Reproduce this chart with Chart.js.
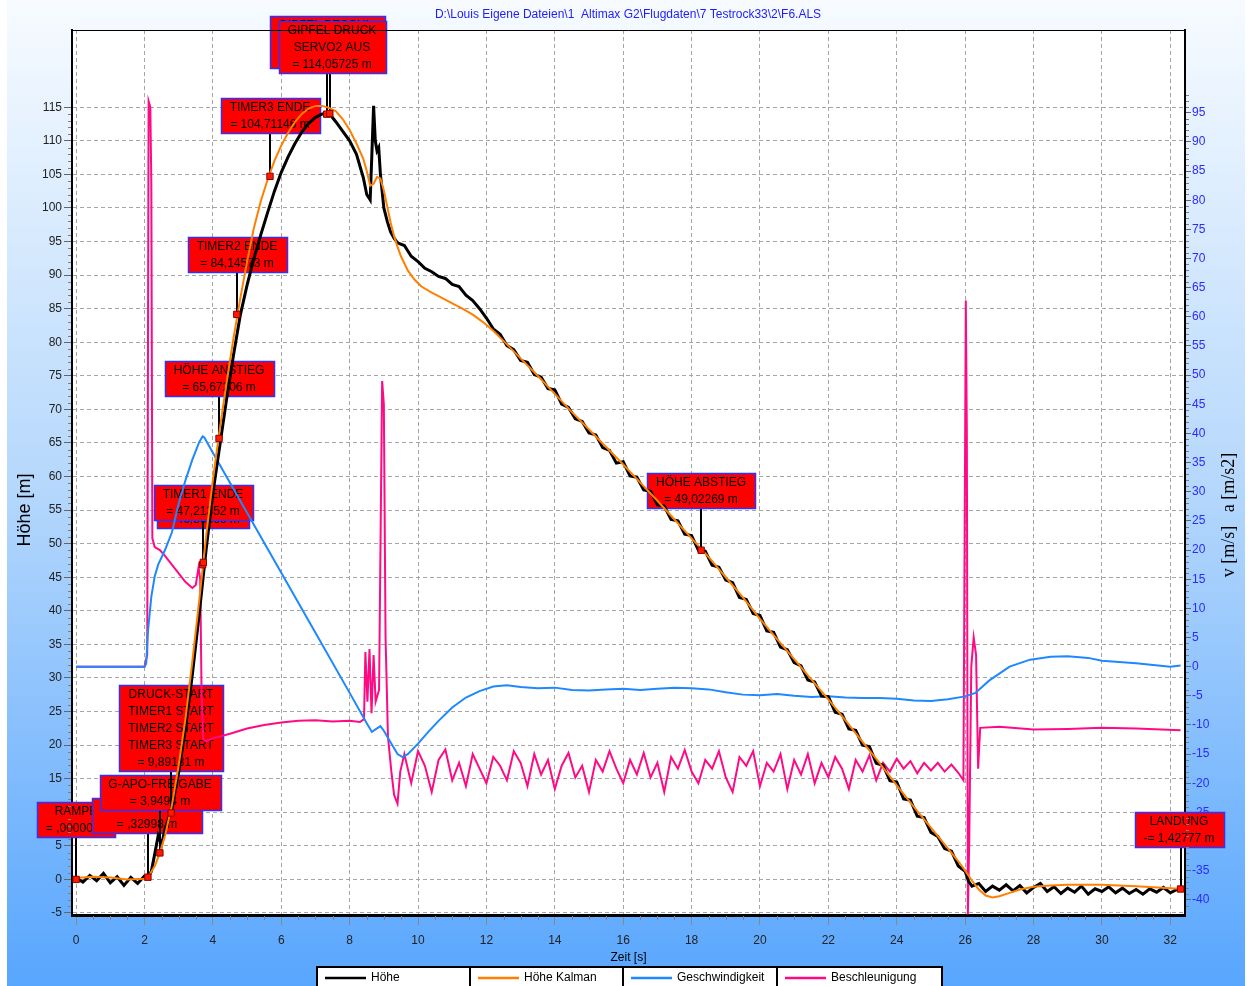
<!DOCTYPE html>
<html lang="de">
<head>
<meta charset="UTF-8">
<title>F6.ALS</title>
<script src="https://cdn.jsdelivr.net/npm/chart.js"></script>
<style>
  html, body { margin: 0; padding: 0; background: #fff; }
  #wrap { width: 1248px; height: 986px; }
</style>
</head>
<body>
<div id="wrap"><canvas id="flug" width="1248" height="986"></canvas></div>
<script>
// Höhe (Rohdaten)
const zeitHoehe = [
  0, 0.2, 0.4, 0.6, 0.8, 1.0, 1.2, 1.4, 1.6, 1.8,
  2.0, 2.1, 2.2, 2.3, 2.4, 2.5, 2.6, 2.8, 3.0, 3.2,
  3.4, 3.6, 3.8, 4.0, 4.2, 4.4, 4.6, 4.8, 5.0, 5.2,
  5.4, 5.6, 5.8, 6.0, 6.2, 6.4, 6.6, 6.8, 7.0, 7.2,
  7.4, 7.6, 7.8, 8.0, 8.2, 8.4, 8.5, 8.6, 8.65, 8.7,
  8.75, 8.8, 8.85, 8.9, 9.0, 9.1, 9.2, 9.3, 9.4, 9.6,
  9.8, 10.0, 10.2, 10.4, 10.6, 10.8, 11.0, 11.2, 11.4, 11.6,
  11.8, 12.0, 12.2, 12.4, 12.6, 12.8, 13.0, 13.2, 13.4, 13.6,
  13.8, 14.0, 14.2, 14.4, 14.6, 14.8, 15.0, 15.2, 15.4, 15.6,
  15.8, 16.0, 16.2, 16.4, 16.6, 16.8, 17.0, 17.2, 17.4, 17.6,
  17.8, 18.0, 18.2, 18.4, 18.6, 18.8, 19.0, 19.2, 19.4, 19.6,
  19.8, 20.0, 20.2, 20.4, 20.6, 20.8, 21.0, 21.2, 21.4, 21.6,
  21.8, 22.0, 22.2, 22.4, 22.6, 22.8, 23.0, 23.2, 23.4, 23.6,
  23.8, 24.0, 24.2, 24.4, 24.6, 24.8, 25.0, 25.2, 25.4, 25.6,
  25.8, 26.0, 26.1, 26.2, 26.4, 26.6, 26.8, 27.0, 27.2, 27.4,
  27.6, 27.8, 28.0, 28.2, 28.4, 28.6, 28.8, 29.0, 29.2, 29.4,
  29.6, 29.8, 30.0, 30.2, 30.4, 30.6, 30.8, 31.0, 31.2, 31.4,
  31.6, 31.8, 32.0, 32.2, 32.3
];
const hoehe = [
  0.2, -0.4, 0.6, -0.2, 0.9, -0.5, 0.4, -0.9, 0.3, -0.6,
  0.5, 0.3, 1.2, 3.8, 6.5, 5.2, 7.5, 10.5, 16.0, 22.5,
  30.5, 39.5, 49.0, 57.5, 64.5, 71.5, 78.0, 84.0, 88.5, 92.5,
  96.0, 99.3, 102.5, 105.3, 107.6, 109.6, 111.3, 112.6, 113.5, 114.0,
  114.1, 112.8, 111.4, 110.0, 108.0, 104.5, 102.0, 101.2, 108.0, 115.2,
  110.0, 108.5, 109.0, 105.0, 100.0, 98.0, 96.4, 95.5, 94.8, 94.4,
  92.8, 92.0, 91.0, 90.5, 89.8, 89.5, 88.6, 88.3, 87.0, 86.2,
  85.0, 83.6, 82.0, 81.2, 79.5, 78.9, 77.3, 77.0, 75.2, 74.8,
  73.1, 72.9, 70.8, 70.3, 68.6, 68.2, 66.5, 66.2, 64.3, 63.9,
  62.0, 62.2, 60.1, 59.9, 58.0, 57.8, 55.8, 55.6, 53.6, 53.4,
  51.4, 51.2, 49.0, 48.9, 46.8, 46.5, 44.6, 44.2, 42.0, 41.7,
  39.6, 39.3, 37.0, 36.8, 34.6, 34.2, 32.3, 31.8, 29.7, 29.4,
  27.3, 27.2, 24.9, 24.6, 22.4, 22.2, 20.0, 19.8, 17.3, 17.0,
  14.7, 14.5, 12.0, 11.8, 9.4, 9.2, 7.0, 6.4, 4.6, 4.2,
  2.0, 1.2, -0.3, -1.0, -0.6, -1.8, -1.0, -1.6, -0.8, -1.7,
  -0.9, -2.0, -1.2, -0.6, -1.8, -1.1, -2.1, -1.3, -1.9, -1.0,
  -2.2, -1.4, -1.8, -1.1, -2.0, -1.3, -2.1, -1.5, -2.2, -1.4,
  -1.9, -1.2, -2.0, -1.5, -1.43
];

// Höhe Kalman
const zeitKalman = [
  0, 0.5, 1.0, 1.5, 2.0, 2.1, 2.3, 2.45, 2.6, 2.8,
  3.0, 3.2, 3.4, 3.6, 3.8, 4.0, 4.2, 4.4, 4.6, 4.8,
  5.0, 5.2, 5.4, 5.6, 5.8, 6.0, 6.2, 6.4, 6.6, 6.8,
  7.0, 7.2, 7.4, 7.6, 7.8, 8.0, 8.2, 8.4, 8.5, 8.6,
  8.7, 8.8, 8.9, 9.0, 9.1, 9.2, 9.3, 9.4, 9.5, 9.7,
  9.9, 10.1, 10.4, 10.7, 11.0, 11.3, 11.6, 11.9, 12.2, 12.5,
  13.0, 13.5, 14.0, 14.5, 15.0, 15.5, 16.0, 16.5, 17.0, 17.5,
  18.0, 18.5, 19.0, 19.5, 20.0, 20.5, 21.0, 21.5, 22.0, 22.5,
  23.0, 23.5, 24.0, 24.5, 25.0, 25.5, 25.8, 26.0, 26.2, 26.4,
  26.6, 26.8, 27.0, 27.3, 27.6, 28.0, 28.5, 29.0, 30.0, 31.0,
  32.0, 32.3
];
const hoeheKalman = [
  0.2, 0.4, 0.3, 0.0, 0.1, 0.3, 2.0, 3.95, 6.5, 11.0,
  17.0, 24.0, 32.5, 41.5, 51.0, 59.5, 67.0, 74.0, 80.5, 86.5,
  92.0, 97.0, 101.0, 104.2, 107.0, 109.3, 111.2, 112.8, 114.0, 114.8,
  115.2, 115.2, 114.9, 114.4, 113.2, 111.6, 109.6, 107.3, 105.5, 103.3,
  103.6, 104.6, 104.4, 102.6, 100.2, 97.8, 95.8, 94.2, 92.8, 90.7,
  89.3, 88.3, 87.4, 86.6, 85.8, 85.0, 84.1, 83.0, 81.7, 80.2,
  77.6, 75.0, 72.3, 69.6, 67.0, 64.4, 61.8, 59.1, 56.4, 53.6,
  50.8, 48.0, 45.0, 42.0, 38.8, 35.8, 32.8, 29.8, 26.8, 23.7,
  20.5, 17.3, 14.0, 10.8, 7.7, 4.6, 2.7, 1.3, -0.2, -1.5,
  -2.4, -2.7, -2.5, -2.0, -1.5, -1.1, -0.9, -0.8, -0.8, -1.0,
  -1.3, -1.4
];

// Geschwindigkeit [m/s]
const zeitV = [
  0, 1.0, 2.0, 2.05, 2.1, 2.2, 2.3, 2.4, 2.6, 2.8,
  3.0, 3.2, 3.4, 3.6, 3.7, 3.75, 4.0, 5.0, 6.0, 7.0,
  8.0, 8.5, 8.65, 8.8, 8.9, 9.0, 9.2, 9.4, 9.55, 9.7,
  10.0, 10.3, 10.6, 11.0, 11.4, 11.8, 12.2, 12.6, 13.0, 13.5,
  14.0, 14.5, 15.0, 15.5, 16.0, 16.5, 17.0, 17.5, 18.0, 18.5,
  19.0, 19.5, 20.0, 20.5, 21.0, 21.5, 22.0, 22.5, 23.0, 23.5,
  24.0, 24.5, 25.0, 25.5, 26.0, 26.3, 26.7, 27.0, 27.3, 27.9,
  28.5, 29.0, 29.6, 30.0, 30.5, 31.0, 31.5, 32.0, 32.3
];
const geschwindigkeit = [
  0, 0, 0, 0.5, 6, 12, 15.5, 17.5, 20, 23,
  28, 32, 35.5, 38.5, 39.5, 39.3, 36.7, 26.4, 16.1, 5.8,
  -4.5, -9.7, -11.2, -10.6, -10.2, -11.0, -13.0, -15.0, -15.5, -15.0,
  -13.2, -11.2, -9.3, -7.0, -5.3, -4.2, -3.4, -3.2, -3.5, -3.7,
  -3.6, -4.0, -4.1, -3.9, -3.8, -4.0, -3.8, -3.6, -3.7, -3.9,
  -4.4, -4.8, -4.9, -4.7, -5.0, -5.2, -5.1, -5.3, -5.4, -5.4,
  -5.5, -5.8, -5.9, -5.6, -5.1, -4.5, -2.4, -1.2, 0, 1.2,
  1.7, 1.8, 1.5, 1.0, 0.8, 0.6, 0.3, 0.0, 0.2
];

// Beschleunigung [m/s2]
const zeitA = [
  0, 1.0, 2.0, 2.08, 2.12, 2.17, 2.2, 2.23, 2.3, 2.45,
  2.6, 2.8, 3.0, 3.2, 3.4, 3.5, 3.58, 3.63, 3.67, 3.72,
  3.8, 4.0, 4.5, 5.0, 5.5, 6.0, 6.5, 7.0, 7.5, 8.0,
  8.3, 8.42, 8.46, 8.52, 8.58, 8.64, 8.7, 8.76, 8.86, 8.95,
  9.0, 9.05, 9.12, 9.22, 9.3, 9.4, 9.48, 9.6, 9.8, 10.0,
  10.2, 10.4, 10.6, 10.8, 11.0, 11.2, 11.4, 11.6, 11.8, 12.0,
  12.2, 12.4, 12.6, 12.8, 13.0, 13.2, 13.4, 13.6, 13.8, 14.0,
  14.2, 14.4, 14.6, 14.8, 15.0, 15.2, 15.4, 15.6, 15.8, 16.0,
  16.2, 16.4, 16.6, 16.8, 17.0, 17.2, 17.4, 17.6, 17.8, 18.0,
  18.2, 18.4, 18.6, 18.8, 19.0, 19.2, 19.4, 19.6, 19.8, 20.0,
  20.2, 20.4, 20.6, 20.8, 21.0, 21.2, 21.4, 21.6, 21.8, 22.0,
  22.2, 22.4, 22.6, 22.8, 23.0, 23.2, 23.4, 23.6, 23.8, 24.0,
  24.2, 24.4, 24.6, 24.8, 25.0, 25.2, 25.4, 25.6, 25.8, 25.95,
  26.02, 26.05, 26.08, 26.12, 26.18, 26.25, 26.32, 26.38, 26.44, 27.0,
  28.0, 29.0, 30.0, 31.0, 32.3
];
const beschleunigung = [
  0, 0, 0, 2, 97, 96, 83, 22, 20.5, 20,
  19, 17.5, 16, 14.5, 13.5, 14, 17, 15, -5, -12.5,
  -12.8, -12.3, -11.5, -10.6, -10.0, -9.6, -9.3, -9.2, -9.4, -9.3,
  -9.5, -9.0, 2.5, -6, 3, -8, 2, -6, -4, 49,
  45, 5, -12, -18, -22, -23.5, -18, -15, -20, -14.5,
  -17, -21.5, -16, -14.2, -19.5, -16.5, -20.5, -15, -17.5, -20,
  -15.5, -17, -19.5, -14.5, -16.5, -20.5, -15, -18.5, -16, -21,
  -17, -14.8, -19, -17, -21.5, -16, -18, -14.5, -17.5, -20,
  -16, -18.5, -14.8, -19, -16.5, -21.5, -15.5, -17.5, -14.3, -18,
  -20, -16, -17.5, -14.5, -19, -21.5, -15.5, -17, -14.5, -20.5,
  -16.5, -18, -15, -21, -16, -18.5, -15, -20, -16.5, -19,
  -15.5, -17.5, -21, -16, -18, -15.2, -19.5, -16.5, -18, -15.8,
  -17.5, -16.2, -18.3, -16.5, -17.8, -16.5, -18.0, -16.8, -18.2, -19.5,
  62.8, 40, -42.5, -30, 0, 5, 2, -17.5, -10.5, -10.3,
  -10.8, -10.7, -10.5, -10.6, -10.9
];

// Ereignisse
const ereignisZeit = [0, 2.1, 2.45, 2.78, 3.70, 3.72, 4.18, 4.70, 5.67, 7.33, 7.42, 18.28, 32.3];
const ereignisHoehe = [0, 0.32998, 3.9494, 9.89181, 46.86866, 47.21352, 65.67206, 84.14573, 104.71146, 113.9641, 114.05725, 49.02269, -1.42777];
const ereignisText = [
  ['RAMPE', '= ,00000 m'],
  ['IMPULSDETEKT', '= ,32998 m'],
  ['G-APO-FREIGABE', '= 3,9494 m'],
  ['DRUCK-START', 'TIMER1 START', 'TIMER2 START', 'TIMER3 START', '= 9,89181 m'],
  ['MOTOR AUS', '= 46,86866 m'],
  ['TIMER1 ENDE', '= 47,21352 m'],
  ['HÖHE ANSTIEG', '= 65,67206 m'],
  ['TIMER2 ENDE', '= 84,14573 m'],
  ['TIMER3 ENDE', '= 104,71146 m'],
  ['GIPFEL BESCHL.', 'SERVO1 AUS', '= 113,96410 m'],
  ['GIPFEL DRUCK', 'SERVO2 AUS', '= 114,05725 m'],
  ['HÖHE ABSTIEG', '= 49,02269 m'],
  ['LANDUNG', '-= 1,42777 m']
];

const xTicks = [0, 2, 4, 6, 8, 10, 12, 14, 16, 18, 20, 22, 24, 26, 28, 30, 32];
const yTicks = [-5, 0, 5, 10, 15, 20, 25, 30, 35, 40, 45, 50, 55, 60, 65, 70, 75, 80, 85, 90, 95, 100, 105, 110, 115];
const y2Ticks = [-40, -35, -30, -25, -20, -15, -10, -5, 0, 5, 10, 15, 20, 25, 30, 35, 40, 45, 50, 55, 60, 65, 70, 75, 80, 85, 90, 95];

const titelText = 'D:\\Louis Eigene Dateien\\1  Altimax G2\\Flugdaten\\7 Testrock33\\2\\F6.ALS';

// Lage der Beschriftungskästen relativ zum Punkt [dx, Abstand Unterkante]
const boxVersatz = [[0, -42], [-1, -44], [0, -43], [0, -42], [0, -37], [0, -42], [0, -42], [0, -42], [0, -43], [0, -46], [2, -41], [0, -42], [-2, -42]];
const legendeLinks = [317, 470, 623, 777, 942];

const schrift = '"Liberation Sans", Arial, sans-serif';

function punkte(xs, ys) {
  return xs.map((t, i) => ({ x: t, y: ys[i] }));
}

const altimaxPlugin = {
  id: 'altimax',
  beforeDraw(chart) {
    const { ctx, chartArea: a, width, height } = chart;
    ctx.save();
    ctx.fillStyle = '#ffffff';
    ctx.fillRect(0, 0, width, height);
    const g = ctx.createLinearGradient(0, 0, 0, height);
    g.addColorStop(0, '#f7fbff');
    g.addColorStop(0.5, '#b4d7fc');
    g.addColorStop(1, '#58a6fe');
    ctx.fillStyle = g;
    ctx.fillRect(7, 0, width - 10, height);
    ctx.fillStyle = '#ffffff';
    ctx.fillRect(a.left, a.top, a.right - a.left, a.bottom - a.top);
    ctx.restore();
  },
  beforeDatasetsDraw(chart) {
    const { ctx, scales: { x, y } } = chart;
    ctx.save();
    ctx.font = '12px ' + schrift;
    ctx.textAlign = 'center';
    ctx.textBaseline = 'middle';
    ereignisText.forEach((zeilen, i) => {
      const mx = Math.round(x.getPixelForValue(ereignisZeit[i]));
      const my = y.getPixelForValue(ereignisHoehe[i]);
      const [dx, dy] = boxVersatz[i];
      const w = Math.round(Math.max(...zeilen.map(z => ctx.measureText(z).width)) + 18);
      const h = zeilen.length * 17 + 1;
      const cx = mx + dx;
      const unten = Math.round(my + dy);
      const links = Math.round(cx - w / 2) + 0.5;
      const oben = unten - h + 0.5;
      ctx.strokeStyle = '#000';
      ctx.lineWidth = 2;
      ctx.beginPath();
      ctx.moveTo(mx, unten);
      ctx.lineTo(mx, my);
      ctx.stroke();
      ctx.fillStyle = '#ff0000';
      ctx.fillRect(links, oben, w, h);
      ctx.strokeStyle = '#3030ff';
      ctx.lineWidth = 1.5;
      ctx.strokeRect(links, oben, w, h);
      ctx.fillStyle = '#000';
      zeilen.forEach((z, k) => ctx.fillText(z, cx, oben + 9.5 + k * 17));
    });
    ctx.restore();
  },
  afterDraw(chart) {
    const { ctx, chartArea: a, scales: { x, y, y2 } } = chart;
    ctx.save();
    // obere Rahmenlinie
    ctx.strokeStyle = '#000';
    ctx.lineWidth = 1;
    ctx.beginPath();
    ctx.moveTo(a.left, a.top + 0.5);
    ctx.lineTo(a.right, a.top + 0.5);
    ctx.stroke();

    // Zwischenstriche
    ctx.strokeStyle = '#808080';
    ctx.lineWidth = 1;
    ctx.beginPath();
    for (let v = 0; v <= 32; v += 0.5) {
      if (v % 2 === 0) continue;
      const px = Math.round(x.getPixelForValue(v)) + 0.5;
      ctx.moveTo(px, a.bottom + 1);
      ctx.lineTo(px, a.bottom + 5);
    }
    for (let v = -5; v <= 115; v += 1) {
      if (v % 5 === 0) continue;
      const py = Math.round(y.getPixelForValue(v)) + 0.5;
      ctx.moveTo(a.left - 4, py);
      ctx.lineTo(a.left - 1, py);
    }
    for (let v = -41; v <= 98; v += 1) {
      if (v % 5 === 0) continue;
      const py = Math.round(y2.getPixelForValue(v)) + 0.5;
      ctx.moveTo(a.right + 1, py);
      ctx.lineTo(a.right + 4, py);
    }
    ctx.stroke();

    // Titel
    ctx.fillStyle = '#1c1cff';
    ctx.font = '12px ' + schrift;
    ctx.textAlign = 'center';
    ctx.textBaseline = 'middle';
    ctx.fillText(titelText, 628, 15);

    // Achsentitel
    ctx.fillStyle = '#000';
    ctx.fillText('Zeit [s]', (a.left + a.right) / 2, 958);
    ctx.save();
    ctx.translate(25, 510);
    ctx.rotate(-Math.PI / 2);
    ctx.font = '18px ' + schrift;
    ctx.fillText('Höhe [m]', 0, 0);
    ctx.restore();
    ctx.save();
    ctx.translate(1229, 515);
    ctx.rotate(-Math.PI / 2);
    ctx.font = '18px "Liberation Serif", "Times New Roman", serif';
    ctx.fillText('v [m/s]   a [m/s2]', 0, 0);
    ctx.restore();

    // Legende
    const reihen = chart.data.datasets.filter(d => d.legende);
    reihen.sort((p, q) => p.legende - q.legende);
    ctx.textAlign = 'left';
    ctx.font = '12px ' + schrift;
    reihen.forEach((d, i) => {
      const l = legendeLinks[i], r = legendeLinks[i + 1];
      ctx.fillStyle = '#fff';
      ctx.fillRect(l, 967, r - l, 22);
      ctx.strokeStyle = '#000';
      ctx.lineWidth = 2;
      ctx.strokeRect(l, 967, r - l, 22);
      ctx.strokeStyle = d.borderColor;
      ctx.lineWidth = 2.5;
      ctx.beginPath();
      ctx.moveTo(l + 8, 978);
      ctx.lineTo(l + 49, 978);
      ctx.stroke();
      ctx.fillStyle = '#000';
      ctx.fillText(d.label, l + 54, 978);
    });
    ctx.restore();
  }
};

const tickFont = { family: schrift, size: 12 };

new Chart(document.getElementById('flug'), {
  type: 'scatter',
  data: {
    datasets: [
      { label: 'Ereignisse', data: punkte(ereignisZeit, ereignisHoehe), yAxisID: 'y',
        pointStyle: 'rect', pointRadius: 4.5, backgroundColor: '#ff1a00', borderColor: '#8a0000',
        borderWidth: 1, showLine: false, order: 0 },
      { label: 'Höhe Kalman', legende: 2, data: punkte(zeitKalman, hoeheKalman), yAxisID: 'y',
        borderColor: '#ff8000', borderWidth: 2, showLine: true, pointRadius: 0, order: 1 },
      { label: 'Höhe', legende: 1, data: punkte(zeitHoehe, hoehe), yAxisID: 'y',
        borderColor: '#000000', borderWidth: 3, showLine: true, pointRadius: 0, order: 2 },
      { label: 'Geschwindigkeit', legende: 3, data: punkte(zeitV, geschwindigkeit), yAxisID: 'y2',
        borderColor: '#1e88ff', borderWidth: 2, showLine: true, pointRadius: 0, order: 3 },
      { label: 'Beschleunigung', legende: 4, data: punkte(zeitA, beschleunigung), yAxisID: 'y2',
        borderColor: '#ff0a85', borderWidth: 2, showLine: true, pointRadius: 0, order: 4 }
    ]
  },
  options: {
    responsive: false,
    animation: false,
    events: [],
    layout: { padding: { top: 30, bottom: 20, left: 0, right: 0 } },
    plugins: { legend: { display: false }, tooltip: { enabled: false } },
    scales: {
      x: {
        type: 'linear', position: 'bottom', min: -0.12, max: 32.43,
        afterBuildTicks: s => { s.ticks = xTicks.map(v => ({ value: v })); },
        afterFit: s => { s.height = 51; },
        ticks: { font: tickFont, color: '#222', padding: 8, autoSkip: false, maxRotation: 0 },
        grid: { color: '#a6a6a6', lineWidth: 1, tickLength: 10, tickColor: '#888' },
        border: { color: '#000', width: 3, dash: [4, 3] }
      },
      y: {
        type: 'linear', position: 'left', min: -5.3, max: 126.5,
        afterBuildTicks: s => { s.ticks = yTicks.map(v => ({ value: v })); },
        afterFit: s => { s.width = 72; },
        ticks: { font: tickFont, color: '#222', padding: 2, autoSkip: false },
        grid: { color: '#a6a6a6', lineWidth: 1, tickLength: 8, tickColor: '#666' },
        border: { color: '#000', width: 2, dash: [4, 3] }
      },
      y2: {
        type: 'linear', position: 'right', min: -42.6, max: 109.2,
        afterBuildTicks: s => { s.ticks = y2Ticks.map(v => ({ value: v })); },
        afterFit: s => { s.width = 63; },
        ticks: { font: tickFont, color: '#2a2aff', padding: 1, autoSkip: false },
        grid: { drawOnChartArea: false, tickLength: 6, tickColor: '#666' },
        border: { color: '#000', width: 2 }
      }
    }
  },
  plugins: [altimaxPlugin]
});
</script>
</body>
</html>
